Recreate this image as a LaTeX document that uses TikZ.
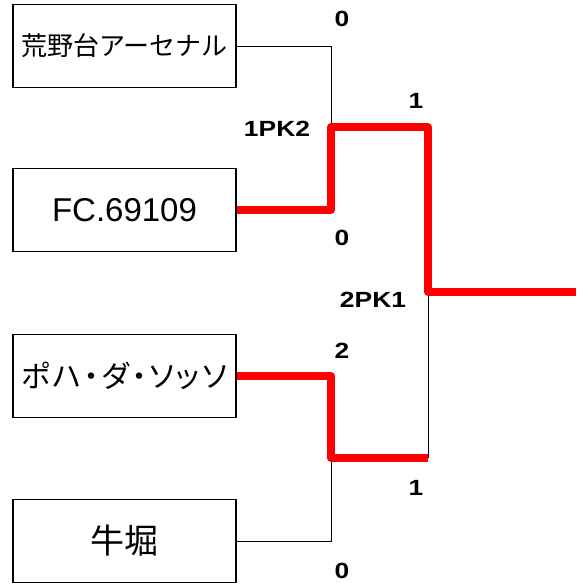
\documentclass[tikz,border=0pt]{standalone}
\usepackage{fontspec}
\usepackage{graphicx}
\setmainfont{Liberation Sans}
\newfontfamily\jpfont{Noto Sans CJK JP}
\newfontfamily\jppfont[RawFeature=+palt, LetterSpace=8]{Noto Sans CJK JP}
\newcommand\scorelbl[1]{\scalebox{1.2}[1]{\fontsize{22}{22}\selectfont\bfseries #1}}
\tikzset{
  team/.style={draw=black, line width=1.8pt, minimum width=223pt, minimum height=83pt, inner sep=0pt, fill=white},
  thinline/.style={draw=black, line width=0.9pt},
  winline/.style={draw=red, line width=7.5pt, line join=round, line cap=butt},
  score/.style={inner sep=0pt, text=black}
}
\begin{document}
\begin{tikzpicture}[x=1pt, y=-1pt]
\useasboundingbox (0,0) rectangle (576,584);
\node[team] (b1) at (124.5,46) {\jpfont\fontsize{26}{27}\selectfont 荒野台アーセナル};
\node[team] (b2) at (124.5,210) {\fontsize{33}{34}\selectfont FC.69109};
\node[team] (b3) at (124.5,376) {\jppfont\fontsize{30}{31}\selectfont ポハ・ダ・ソッソ};
\node[team] (b4) at (124.5,541) {\jpfont\fontsize{34}{35}\selectfont 牛堀};
\coordinate (m1) at (331,127);
\coordinate (m1r) at (428,127);
\coordinate (m2) at (331,458);
\coordinate (m2r) at (428,458);
\coordinate (f) at (428,292);
\coordinate (out) at (576,292);
\draw[thinline] (b1.east) -| (m1);
\draw[thinline] (b4.east) -| (m2);
\draw[thinline] (m2r) -- (f);
\draw[winline] (b2.east) -| (m1) -- (m1r) -- (f) -- (out);
\draw[winline] (b3.east) -| (m2) -- (m2r);
\node[score] (s1) at (342,19) {\scorelbl{0}};
\node[score] (s2) at (342,238) {\scorelbl{0}};
\node[score] (s3) at (342,351) {\scorelbl{2}};
\node[score] (s4) at (342,571) {\scorelbl{0}};
\node[score] (s5) at (416,101) {\scorelbl{1}};
\node[score] (s6) at (416,488) {\scorelbl{1}};
\node[score] (pk1) at (277,128.5) {\scorelbl{1PK2}};
\node[score] (pk2) at (373,300) {\scorelbl{2PK1}};
\end{tikzpicture}
\end{document}
